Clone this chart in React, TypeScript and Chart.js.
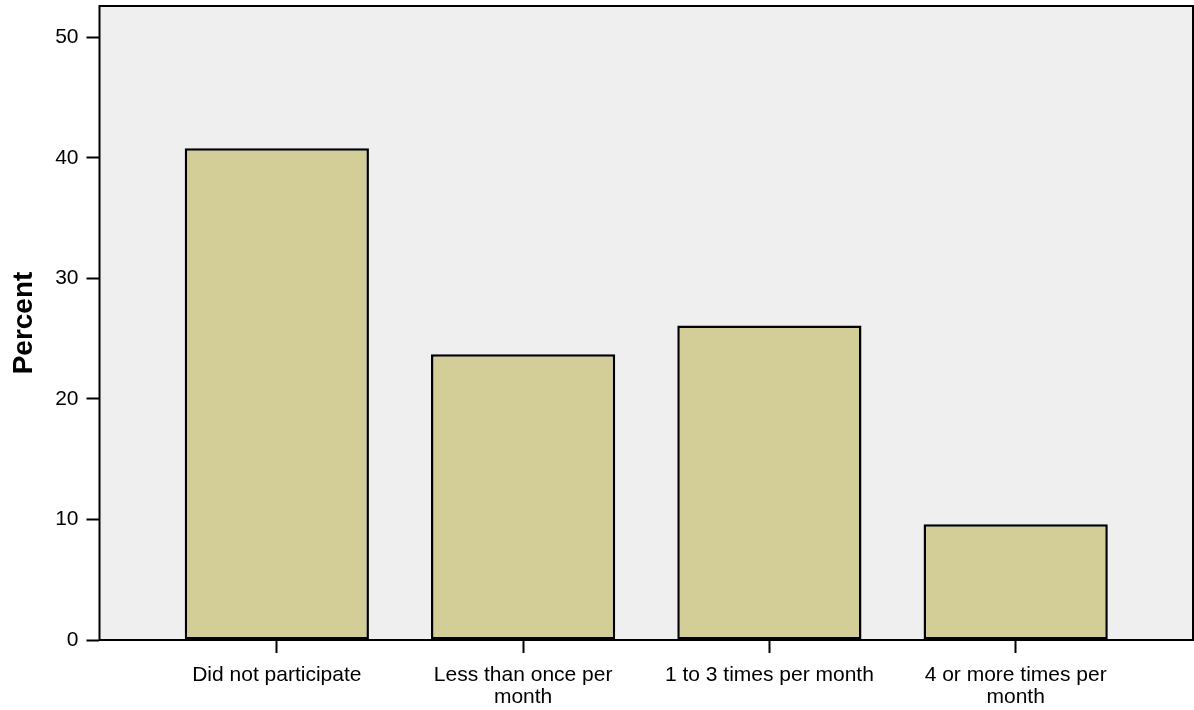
import React, { useEffect, useRef } from "react";
import { Chart, registerables } from "chart.js";

Chart.register(...registerables);

const CATEGORIES: string[][] = [
  ["Did not participate"],
  ["Less than once per", "month"],
  ["1 to 3 times per month"],
  ["4 or more times per", "month"],
];
const PERCENT_VALUES: number[] = [40.8, 23.7, 26.1, 9.6];
const Y_TICKS: number[] = [0, 10, 20, 30, 40, 50];
const Y_TITLE = "Percent";

const FONT = '"Liberation Sans", Arial, Helvetica, sans-serif';

const framePlugin = {
  id: "frame",
  beforeDatasetsDraw(chart: any) {
    const { ctx, chartArea } = chart;
    ctx.save();
    ctx.fillStyle = "#efefef";
    ctx.fillRect(chartArea.left, chartArea.top, chartArea.right - chartArea.left, chartArea.bottom - chartArea.top);
    ctx.restore();
  },
  afterDraw(chart: any) {
    const { ctx, chartArea } = chart;
    ctx.save();
    ctx.strokeStyle = "#000";
    ctx.lineWidth = 2;
    ctx.strokeRect(chartArea.left, chartArea.top, chartArea.right - chartArea.left, chartArea.bottom - chartArea.top);
    ctx.restore();
  },
};

export default function App() {
  const ref = useRef<HTMLCanvasElement | null>(null);

  useEffect(() => {
    if (!ref.current) return;
    const chart = new Chart(ref.current, {
      type: "bar",
      data: {
        datasets: [
          {
            data: PERCENT_VALUES.map((v, i) => ({ x: i, y: v })),
            backgroundColor: "#d3ce98",
            borderColor: "#000",
            borderWidth: 2.5,
            borderSkipped: false,
            categoryPercentage: 1,
            barPercentage: 0.748,
          } as any,
        ],
      },
      options: {
        animation: false,
        responsive: false,
        devicePixelRatio: 1,
        layout: { padding: { top: 6, right: 1, left: 0, bottom: 0 } },
        plugins: {
          legend: { display: false },
          tooltip: { enabled: false },
        },
        scales: {
          x: {
            type: "linear",
            offset: false,
            min: -0.72,
            max: 3.72,
            afterBuildTicks: (scale: any) => {
              scale.ticks = CATEGORIES.map((_, i) => ({ value: i }));
            },
            afterFit: (scale: any) => {
              scale.height = 70;
              scale.paddingLeft = 0;
              scale.paddingRight = 0;
            },
            grid: {
              display: true,
              offset: false,
              drawOnChartArea: false,
              drawTicks: true,
              tickLength: 13,
              tickColor: "#000",
              tickWidth: 2,
            },
            border: { display: true, color: "#000", width: 2 },
            ticks: {
              autoSkip: false,
              maxRotation: 0,
              minRotation: 0,
              padding: 11,
              color: "#000",
              font: { family: FONT, size: 21, lineHeight: 1.05 },
              callback: (v: any) => CATEGORIES[Math.round(Number(v))] ?? "",
            },
          },
          y: {
            type: "linear",
            min: 0,
            max: 52.6,
            afterBuildTicks: (scale: any) => {
              scale.ticks = Y_TICKS.map((v) => ({ value: v }));
            },
            afterFit: (scale: any) => {
              scale.width = 99.5;
              scale.paddingTop = 0;
              scale.paddingBottom = 0;
            },
            grid: {
              display: true,
              drawOnChartArea: false,
              drawTicks: true,
              tickLength: 13,
              tickColor: "#000",
              tickWidth: 2,
            },
            border: { display: true, color: "#000", width: 2 },
            ticks: {
              padding: 8,
              color: "#000",
              font: { family: FONT, size: 21 },
              includeBounds: false,
            },
            title: {
              display: true,
              text: Y_TITLE,
              color: "#000",
              padding: { top: 7, bottom: 0 },
              font: { family: FONT, size: 28, weight: "bold" },
            },
          },
        },
      },
      plugins: [framePlugin],
    });
    return () => chart.destroy();
  }, []);

  return (
    <div style={{ position: "fixed", left: 0, top: 0, width: 1194, height: 710, background: "#fff" }}>
      <canvas ref={ref} width={1194} height={710} style={{ display: "block" }} />
    </div>
  );
}
